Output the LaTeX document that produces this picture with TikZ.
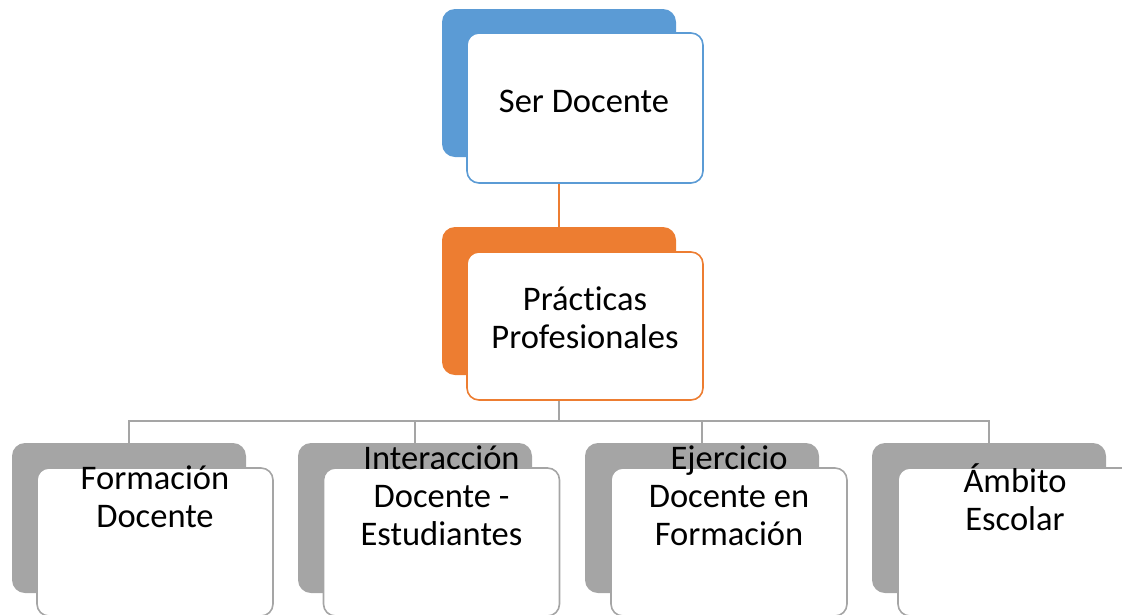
\documentclass[tikz,border=0pt]{standalone}
\usepackage{fontspec}
\setmainfont[Ligatures=NoCommon]{Carlito}
\definecolor{cblue}{HTML}{5B9BD5}
\definecolor{corange}{HTML}{ED7D31}
\definecolor{cgray}{HTML}{A5A5A5}
\begin{document}
\begin{tikzpicture}[x=1pt,y=-1pt,
  backbox/.style={rectangle,rounded corners=13pt,inner sep=0pt,minimum width=234pt,minimum height=148pt,draw=none},
  frontbox/.style={rectangle,rounded corners=12pt,inner sep=0pt,minimum width=236pt,minimum height=148pt,fill=white,line width=1.6pt},
  lbl/.style={align=center,inner sep=0pt,font=\fontsize{34.5}{38}\selectfont},
  link/.style={line width=1.5pt}]
\useasboundingbox (0,0) rectangle (1122,614);
\clip (0,0) rectangle (1122,614);
% top
\node[backbox,fill=cblue] (sb) at (559,83) {};
\node[frontbox,draw=cblue,minimum height=150pt] (sf) at (585,108) {};
\node[lbl] (st) at (584,101) {Ser Docente};
% middle
\node[backbox,fill=corange] (pb) at (559,301) {};
\node[frontbox,draw=corange] (pf) at (585,326) {};
\node[lbl] (pt) at (585,318) {Prácticas\\Profesionales};
% bottom
\foreach \i/\bx/\fx in {1/129/155,2/415/441.5,3/702/729,4/989/1016}{
  \node[backbox,fill=cgray,minimum height=150pt] (b\i) at (\bx,518) {};
  \node[frontbox,draw=cgray,minimum height=148pt] (f\i) at (\fx,542) {};
}
\node[lbl] (t1) at (155,497) {Formación\\Docente};
\node[lbl] (t2) at (441.5,496) {Interacción\\Docente -\\Estudiantes};
\node[lbl] (t3) at (729,496) {Ejercicio\\Docente en\\Formación};
\node[lbl] (t4) at (1015,497) {Ámbito\\Escolar};
% connectors
\draw[link,corange] (sf.south -| sb.south) -- (pb.north);
\coordinate (bus) at (559,421);
\draw[link,cgray] (pf.south -| bus) -- (bus);
\foreach \i in {1,2,3,4}{\draw[link,cgray] (bus) -| (b\i.north);}
\end{tikzpicture}
\end{document}
